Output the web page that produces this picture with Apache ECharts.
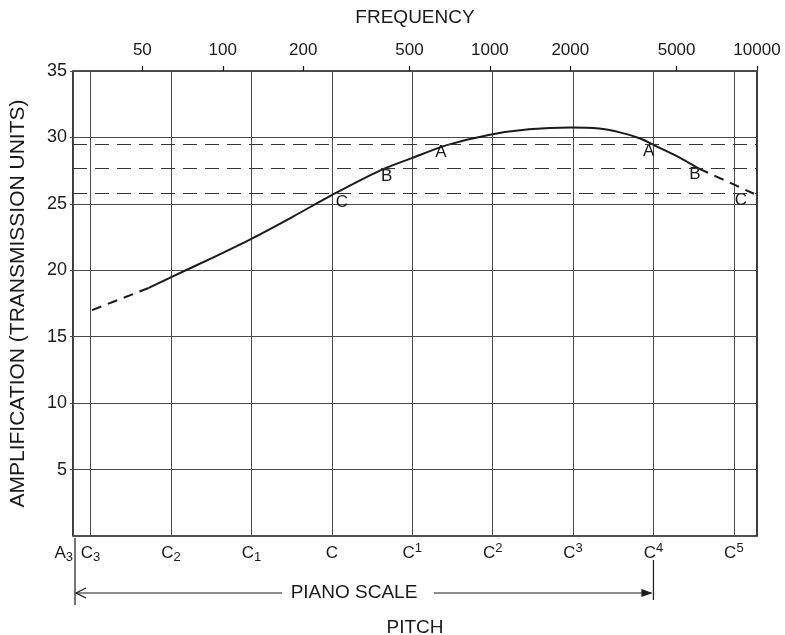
<!DOCTYPE html>
<html>
<head>
<meta charset="utf-8">
<script src="https://cdn.jsdelivr.net/npm/echarts@6/dist/echarts.min.js"></script>
<style>
  html, body { margin: 0; background: #fff; }
  #chart { width: 785px; height: 635px; }
</style>
</head>
<body>
<div id="chart"></div>
<script>
// pitch axis (bottom): piano range start + the C's (physical scale, C = 256 Hz)
const pitchFreqs = [27.5, 32, 64, 128, 256, 512, 1024, 2048, 4096, 8192];
const pitchLabels = ['A_3', 'C_3', 'C_2', 'C_1', 'C', 'C^1', 'C^2', 'C^3', 'C^4', 'C^5'];
// frequency axis (top)
const freqTicks = [50, 100, 200, 500, 1000, 2000, 5000, 10000];
const freqMin = 27.5;
const freqMax = 10000;
// amplification axis
const ampTicks = [5, 10, 15, 20, 25, 30, 35];

// response curve
const curveFreq = [32.4, 52.8, 65.6, 91, 129, 182, 256, 384, 510, 690, 990, 1400, 2010, 2560, 3040, 3610, 4150, 5010, 6060, 7710, 9740];
const curveAmp = [17.0, 18.67, 19.58, 20.92, 22.41, 24.01, 25.66, 27.47, 28.44, 29.42, 30.19, 30.61, 30.75, 30.67, 30.4, 29.96, 29.39, 28.59, 27.65, 26.7, 25.76];
const solidFrom = 1;   // measured (solid) part starts here
const solidTo = 18;    // and ends here; the rest is dashed

// dashed reference levels A, B, C
const levelAmp = [29.45, 27.65, 25.78];

// letters where the curve crosses the levels
const markText = ['A', 'B', 'C', 'A', 'B', 'C'];
const markFreq = [690, 404, 256, 4100, 6060, 9740];
const markAmp = [29.45, 27.65, 25.78, 29.45, 27.65, 25.78];

const FONT = 'Liberation Sans';
const INK = '#1a1a1a';
const GRID = '#4a4a4a';

const chart = echarts.init(document.getElementById('chart'));

const pts = curveFreq.map((f, i) => [f, curveAmp[i]]);
const labelOffsets = [[-6, 8], [2, 8], [10, 9], [-5, 7], [-4, 6], [-13, 7]];
// keep edge ticks just inside the axis extent
const pitchTickVals = pitchFreqs.map(f => Math.min(Math.max(f, freqMin * 1.0005), freqMax / 1.0005));

function nearest(list, v) {
    let best = 0;
    list.forEach((f, i) => {
        if (Math.abs(Math.log(f / v)) < Math.abs(Math.log(list[best] / v))) best = i;
    });
    return best;
}

function pitchLabel(v) {
    const s = pitchLabels[nearest(pitchFreqs, v)];
    if (s.indexOf('_') > 0) {
        const p = s.split('_');
        return '{m|' + p[0] + '}{sub|' + p[1] + '}';
    }
    if (s.indexOf('^') > 0) {
        const p = s.split('^');
        return '{m|' + p[0] + '}{sup|' + p[1] + '}';
    }
    return '{m|' + s + '}';
}

function freqLabel(v) {
    return String(freqTicks[nearest(freqTicks, v)]);
}

const option = {
    backgroundColor: '#fff',
    animation: false,
    textStyle: { fontFamily: FONT, color: INK },
    grid: {
        left: 73,
        right: 28,
        top: 71,
        bottom: 99,
        outerBoundsMode: 'none',
        containLabel: false,
        show: true,
        borderColor: INK,
        borderWidth: 1.7,
        backgroundColor: 'transparent'
    },
    xAxis: [
        {
            type: 'log',
            logBase: 2,
            min: freqMin,
            max: freqMax,
            position: 'bottom',
            name: 'PITCH',
            nameLocation: 'middle',
            nameGap: 82,
            nameTextStyle: { fontSize: 19, color: INK, fontFamily: FONT },
            axisLine: { show: false },
            axisTick: { show: false, customValues: pitchTickVals },
            splitLine: { show: true, lineStyle: { color: GRID, width: 1 } },
            axisLabel: {
                customValues: pitchTickVals,
                interval: 0,
                showMinLabel: true,
                alignMinLabel: 'right',
                margin: 6,
                formatter: pitchLabel,
                rich: {
                    m: { fontSize: 17, lineHeight: 22, color: INK, fontFamily: FONT },
                    sub: { fontSize: 13, color: INK, fontFamily: FONT, verticalAlign: 'bottom', lineHeight: 14 },
                    sup: { fontSize: 13, color: INK, fontFamily: FONT, verticalAlign: 'top', lineHeight: 14 }
                }
            }
        },
        {
            type: 'log',
            logBase: 2,
            min: freqMin,
            max: freqMax,
            position: 'top',
            name: 'FREQUENCY',
            nameLocation: 'middle',
            nameGap: 44,
            nameTextStyle: { fontSize: 19, color: INK, fontFamily: FONT },
            axisLine: { show: false },
            axisTick: {
                show: true,
                inside: false,
                length: 5,
                customValues: freqTicks,
                lineStyle: { color: INK, width: 1.2 }
            },
            splitLine: { show: false },
            axisLabel: {
                customValues: freqTicks,
                interval: 0,
                showMaxLabel: true,
                margin: 12,
                fontSize: 17,
                color: INK,
                fontFamily: FONT,
                formatter: freqLabel
            }
        }
    ],
    yAxis: {
        type: 'value',
        min: 0,
        max: 35,
        interval: 5,
        name: 'AMPLIFICATION (TRANSMISSION UNITS)',
        nameLocation: 'middle',
        nameRotate: 90,
        nameGap: 44,
        nameTextStyle: { fontSize: 21, color: INK, fontFamily: FONT },
        axisLine: { show: false },
        axisTick: { show: true, length: 3, customValues: ampTicks, lineStyle: { color: GRID } },
        splitLine: { show: true, lineStyle: { color: GRID, width: 1 } },
        axisLabel: {
            customValues: ampTicks,
            margin: 6,
            fontSize: 18,
            color: INK,
            fontFamily: FONT
        }
    },
    series: [
        {
            type: 'line',
            name: 'measured',
            data: pts.slice(solidFrom, solidTo + 1),
            smooth: 0.3,
            symbol: 'none',
            silent: true,
            lineStyle: { color: INK, width: 2 },
            markLine: {
                silent: true,
                symbol: ['none', 'none'],
                label: { show: false },
                lineStyle: { color: '#333', width: 1.2, type: [14, 8] },
                data: levelAmp.map(v => ({ yAxis: v }))
            },
            z: 3
        },
        {
            type: 'line',
            name: 'extrapolated low',
            data: pts.slice(0, solidFrom + 1),
            symbol: 'none',
            silent: true,
            lineStyle: { color: INK, width: 2, type: [10, 7] },
            z: 3
        },
        {
            type: 'line',
            name: 'extrapolated high',
            data: pts.slice(solidTo),
            smooth: 0.3,
            symbol: 'none',
            silent: true,
            lineStyle: { color: INK, width: 2, type: [10, 7] },
            z: 3
        },
        {
            type: 'scatter',
            name: 'levels',
            symbolSize: 1,
            silent: true,
            itemStyle: { color: 'rgba(0,0,0,0)', opacity: 1 },
            data: markFreq.map((f, i) => ({
                value: [f, markAmp[i]],
                label: { offset: labelOffsets[i] }
            })),
            label: {
                show: true,
                position: 'inside',
                fontSize: 17,
                color: INK,
                fontFamily: FONT,
                formatter: p => markText[p.dataIndex]
            },
            z: 4
        }
    ]
};

chart.setOption(option);

// "PIANO SCALE" bracket below the pitch axis, placed on the axis scale
const xA = chart.convertToPixel({ xAxisIndex: 0 }, pitchFreqs[0]);
const xC4 = chart.convertToPixel({ xAxisIndex: 0 }, pitchFreqs[8]);
const yArrow = 593;
const textMid = 354;
const lineStyle = { stroke: INK, lineWidth: 1.2 };

chart.setOption({
    graphic: [
        { type: 'line', shape: { x1: xA + 2, y1: 538, x2: xA + 2, y2: 605 }, style: lineStyle },
        { type: 'line', shape: { x1: xC4, y1: 560, x2: xC4, y2: 600 }, style: lineStyle },
        { type: 'line', shape: { x1: xA + 3, y1: yArrow, x2: textMid - 72, y2: yArrow }, style: lineStyle },
        { type: 'line', shape: { x1: textMid + 80, y1: yArrow, x2: xC4 - 2, y2: yArrow }, style: lineStyle },
        { type: 'polyline', shape: { points: [[xA + 13, yArrow - 5], [xA + 3, yArrow], [xA + 13, yArrow + 5]] }, style: lineStyle },
        { type: 'polygon', shape: { points: [[xC4 - 12, yArrow - 4], [xC4 - 1, yArrow], [xC4 - 12, yArrow + 4]] }, style: { fill: INK } },
        {
            type: 'text',
            x: textMid,
            y: yArrow,
            style: {
                text: 'PIANO SCALE',
                fontSize: 19,
                fontFamily: FONT,
                fill: INK,
                align: 'center',
                verticalAlign: 'middle'
            }
        }
    ]
});
</script>
</body>
</html>
